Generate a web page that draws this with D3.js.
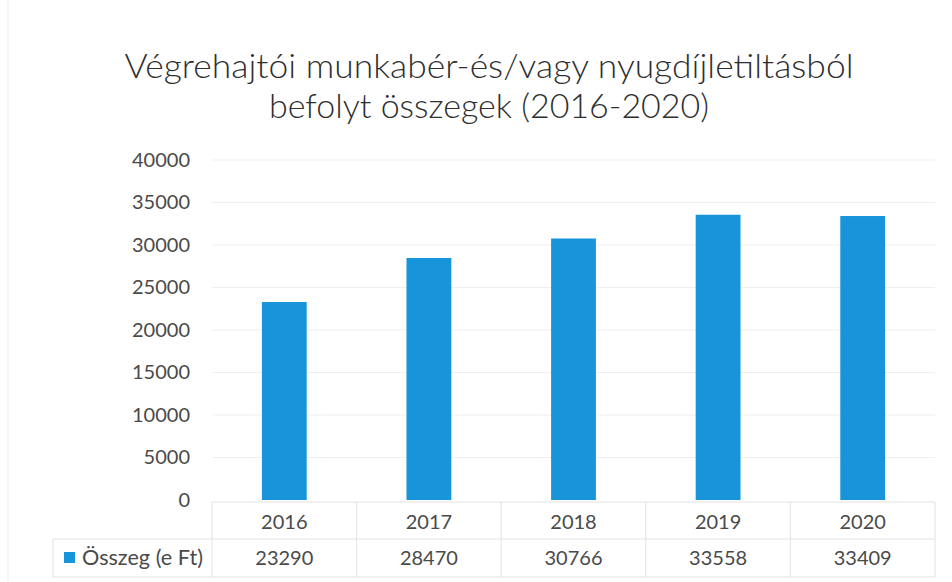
<!DOCTYPE html>
<html>
<head>
<meta charset="utf-8">
<script src="https://cdn.jsdelivr.net/npm/d3@7"></script>
<style>
  body { margin: 0; background: #fff; }
  svg { display: block; font-family: Lato, "Open Sans", sans-serif; }
</style>
</head>
<body>
<svg id="chart" width="952" height="582"></svg>
<script>
// chart data
var titleLines = ["Végrehajtói munkabér-és/vagy nyugdíjletiltásból", "befolyt összegek (2016-2020)"];
var years = ["2016", "2017", "2018", "2019", "2020"];
var values = [23290, 28470, 30766, 33558, 33409];
var seriesName = "Összeg (e Ft)";
var yTicks = [0, 5000, 10000, 15000, 20000, 25000, 30000, 35000, 40000];

var barColor = "#1895da";
var textColor = "#4a4a4a";
var gridColor = "#efefef";
var tableColor = "#e2e2e2";

var translate = function(x, y) { return "translate(" + x + "," + y + ")"; };

var plot = { left: 212, right: 935, top: 160, bottom: 500 };
var table = { left: 53, top: 502, mid: 539, bottom: 577 };

var svg = d3.select("#chart");

// squeeze a text to a given width (calibri is narrower than lato)
function squeeze(sel, width) {
  sel.attr("textLength", width).attr("lengthAdjust", "spacingAndGlyphs");
}

// faint frame on the left from the scan
svg.append("line")
  .attr("x1", 8).attr("x2", 8)
  .attr("y1", 0).attr("y2", 582)
  .attr("stroke", "#efefef");

// title
titleLines.forEach(function(t, i) {
  var txt = svg.append("text")
    .attr("x", 489)
    .attr("y", 78 + i * 40)
    .attr("text-anchor", "middle")
    .style("font-size", "33px")
    .style("font-weight", 300)
    .style("fill", "#2e2e2e")
    .text(t);
  squeeze(txt, i == 0 ? 729 : 440);
});

var x = d3.scaleBand()
  .domain(years)
  .range([plot.left, plot.right])
  .paddingInner(0.69)
  .paddingOuter(0.345);

var y = d3.scaleLinear()
  .domain([0, 40000])
  .range([plot.bottom, plot.top]);

// gridlines
svg.append("g")
  .selectAll("line")
  .data(yTicks.slice(1))
  .enter().append("line")
  .attr("x1", plot.left)
  .attr("x2", plot.right)
  .attr("y1", function(d) { return y(d); })
  .attr("y2", function(d) { return y(d); })
  .attr("stroke", gridColor)
  .attr("stroke-width", 1);

// y axis labels
var yAxis = d3.axisLeft(y)
  .tickValues(yTicks)
  .tickFormat(d3.format("d"))
  .tickSize(0)
  .tickPadding(22);

var gy = svg.append("g")
  .attr("transform", translate(plot.left, 0))
  .call(yAxis);
gy.select(".domain").remove();
gy.selectAll("text")
  .style("font-family", "Lato, sans-serif")
  .style("font-size", "20px")
  .style("fill", textColor);

// bars
svg.append("g")
  .selectAll("rect")
  .data(values)
  .enter().append("rect")
  .attr("x", function(d, i) { return x(years[i]); })
  .attr("y", function(d) { return y(d); })
  .attr("width", x.bandwidth())
  .attr("height", function(d) { return y(0) - y(d); })
  .attr("fill", barColor);

// data table under the plot
var tbl = svg.append("g");
var hLines = [
  [plot.left, table.top],
  [table.left, table.mid],
  [table.left, table.bottom]
];
tbl.selectAll("line.h")
  .data(hLines)
  .enter().append("line")
  .attr("class", "h")
  .attr("x1", function(d) { return d[0]; })
  .attr("x2", plot.right)
  .attr("y1", function(d) { return d[1]; })
  .attr("y2", function(d) { return d[1]; })
  .attr("stroke", tableColor);

var edges = years.map(function(d, i) { return plot.left + i * x.step(); });
edges.push(plot.right);
tbl.selectAll("line.v")
  .data(edges)
  .enter().append("line")
  .attr("class", "v")
  .attr("x1", function(d) { return d; })
  .attr("x2", function(d) { return d; })
  .attr("y1", table.top)
  .attr("y2", table.bottom)
  .attr("stroke", tableColor);

tbl.append("line")
  .attr("x1", table.left).attr("x2", table.left)
  .attr("y1", table.mid).attr("y2", table.bottom)
  .attr("stroke", tableColor);

tbl.selectAll("text.year")
  .data(years)
  .enter().append("text")
  .attr("class", "year")
  .attr("x", function(d) { return x(d) + x.bandwidth() / 2; })
  .attr("y", (table.top + table.mid) / 2 + 1)
  .attr("dy", "0.35em")
  .attr("text-anchor", "middle")
  .style("font-size", "20px")
  .style("fill", textColor)
  .text(function(d) { return d; });

tbl.selectAll("text.val")
  .data(values)
  .enter().append("text")
  .attr("class", "val")
  .attr("x", function(d, i) { return x(years[i]) + x.bandwidth() / 2; })
  .attr("y", (table.mid + table.bottom) / 2)
  .attr("dy", "0.35em")
  .attr("text-anchor", "middle")
  .style("font-size", "20px")
  .style("fill", textColor)
  .text(function(d) { return d; });

// legend key in the table
tbl.append("rect")
  .attr("x", 64)
  .attr("y", 552)
  .attr("width", 11)
  .attr("height", 11)
  .attr("fill", barColor);

var leg = tbl.append("text")
  .attr("x", 82)
  .attr("y", (table.mid + table.bottom) / 2)
  .attr("dy", "0.35em")
  .style("font-size", "21px")
  .style("fill", textColor)
  .text(seriesName);
squeeze(leg, 121);
</script>
</body>
</html>
